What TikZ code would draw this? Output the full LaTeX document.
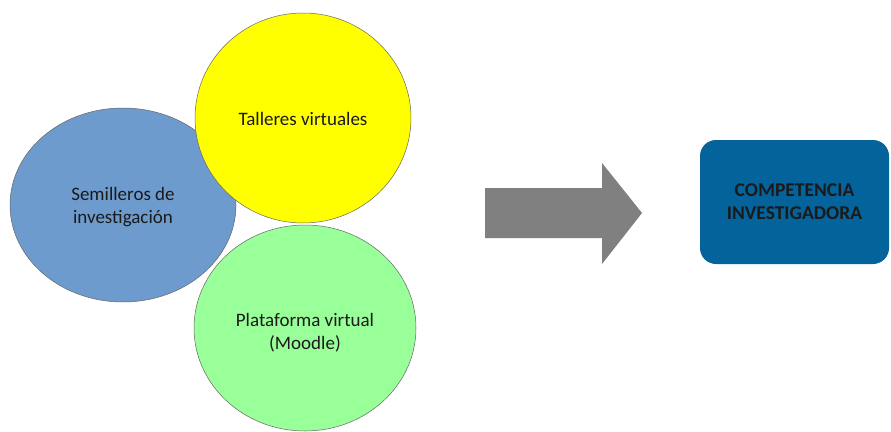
\documentclass[tikz,border=0pt]{standalone}
\usepackage{fontspec}
\setmainfont{Carlito}
\definecolor{bluell}{HTML}{6D9BCD}
\definecolor{yell}{HTML}{FFFF00}
\definecolor{grn}{HTML}{99FF99}
\definecolor{arrgray}{HTML}{808080}
\definecolor{boxblue}{HTML}{05639B}
\definecolor{txt}{HTML}{1A1A1A}
\begin{document}
\begin{tikzpicture}[x=1pt,y=-1pt,
  blob/.style={draw=black!60, line width=0.5pt},
  lbl/.style={text=txt, align=center, font=\fontsize{19}{23}\selectfont}]
\useasboundingbox (0,0) rectangle (891,431);
\fill[white] (0,0) rectangle (891,431);
% shapes
\draw[blob, fill=bluell] (123,205) ellipse [x radius=113, y radius=97];
\node[lbl] (sem) at (123,207) {Semilleros de\\investigación};
\draw[blob, fill=yell] (303,118) ellipse [x radius=108, y radius=105];
\node[lbl] (tal) at (303,119) {Talleres virtuales};
\draw[blob, fill=grn] (305,328) ellipse [x radius=111, y radius=103];
\node[lbl] (pla) at (305,333) {Plataforma virtual\\(Moodle)};
% arrow
\fill[arrgray] (485,188) -- (602,188) -- (602,163) -- (642,213) -- (602,264) -- (602,238) -- (485,238) -- cycle;
% box
\node[fill=boxblue, rounded corners=16pt, minimum width=189pt, minimum height=124pt, inner sep=0pt,
  text=txt, align=center, font=\bfseries\fontsize{19.5}{23}\selectfont] (comp) at (794.5,202) {COMPETENCIA\\INVESTIGADORA};
\end{tikzpicture}
\end{document}
